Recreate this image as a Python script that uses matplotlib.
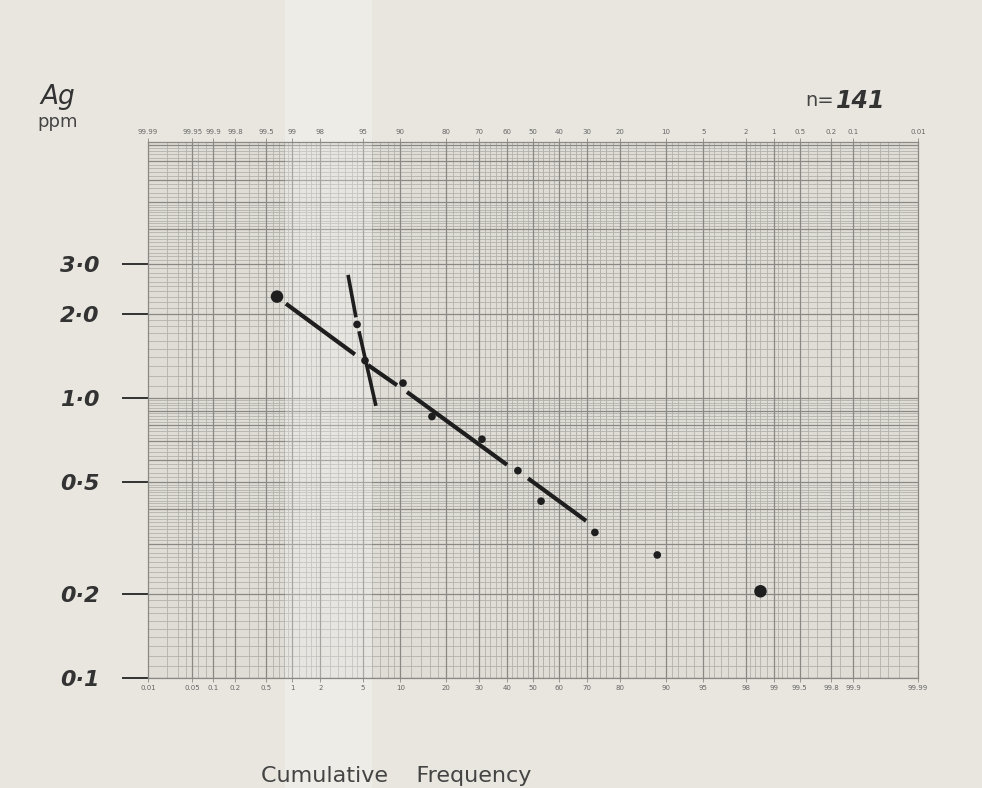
import numpy as np
import matplotlib
matplotlib.use("Agg")
import matplotlib.pyplot as plt
from matplotlib.patches import Rectangle
from statistics import NormalDist

# data (Ag, ppm vs cumulative frequency %)
cum_freq = [0.67, 4.46, 5.23, 10.46, 16.45, 31.1, 44.2, 53.1, 72.5, 88.5, 98.6]
ag_ppm = [2.30, 1.83, 1.36, 1.13, 0.858, 0.712, 0.550, 0.428, 0.331, 0.275, 0.204]
big_dots = [0, 10]  # the two outliers are drawn with larger dots

# hand-drawn fitted lines (pairs of end points), main population line has small gaps
main_line_x = [[0.85, 4.27], [5.55, 9.45], [11.18, 40.1], [48.1, 69.6]]
main_line_y = [[2.17, 1.43], [1.31, 1.11], [1.05, 0.577], [0.516, 0.364]]
steep_line_x = [[3.70, 4.36], [4.64, 6.46]]
steep_line_y = [[2.75, 1.94], [1.73, 0.937]]

bottom_ticks = [0.01, 0.05, 0.1, 0.2, 0.5, 1, 2, 5, 10, 20, 30, 40, 50,
                60, 70, 80, 90, 95, 98, 99, 99.5, 99.8, 99.9, 99.99]
bottom_labels = ["0.01", "0.05", "0.1", "0.2", "0.5", "1", "2", "5", "10", "20", "30",
                 "40", "50", "60", "70", "80", "90", "95", "98", "99", "99.5", "99.8",
                 "99.9", "99.99"]
top_labels = ["99.99", "99.95", "99.9", "99.8", "99.5", "99", "98", "95", "90", "80",
              "70", "60", "50", "40", "30", "20", "10", "5", "2", "1", "0.5", "0.2",
              "0.1", "0.01"]
y_ticks = [0.1, 0.2, 0.5, 1.0, 2.0, 3.0]
y_labels = ["0·1", "0·2", "0·5", "1·0", "2·0", "3·0"]

PAPER = "#e8e6df"
INK = "#1e1e1e"
FINE = "#b3b1ab"
MAJOR = "#8a8884"

_nd = NormalDist()
_ppf = np.vectorize(_nd.inv_cdf, otypes=[float])
_cdf = np.vectorize(_nd.cdf, otypes=[float])


def prob_fwd(p):
    p = np.clip(np.asarray(p, float), 1e-5, 100 - 1e-5)
    return _ppf(p / 100.0)


def prob_inv(z):
    return _cdf(np.asarray(z, float)) * 100.0


W, H = 982, 788
fig = plt.figure(figsize=(W / 100, H / 100), dpi=100, facecolor=PAPER)
L, R, T, B = 148, 918, 142, 678
ax = fig.add_axes([L / W, 1 - B / H, (R - L) / W, (B - T) / H])
ax.set_facecolor("#dfddd6")
ax.set_xscale("function", functions=(prob_fwd, prob_inv))
ax.set_yscale("log")
ax.set_xlim(0.01, 99.99)
ax.set_ylim(0.1, 8.2)

# probability-paper grid
fine_x = ([0.02, 0.03, 0.04, 0.06, 0.08, 0.15, 0.3, 0.4, 0.6, 0.7, 0.8, 0.9, 1.2, 1.4,
           1.6, 1.8, 2.5, 3, 3.5, 4, 4.5, 6, 7, 8, 9]
          + list(np.arange(12, 90, 2)))
fine_x = fine_x + [100 - v for v in fine_x if v < 50]
for v in fine_x:
    ax.axvline(v, color=FINE, lw=0.6, zorder=0.4)
for v in bottom_ticks[1:-1]:
    ax.axvline(v, color=MAJOR, lw=0.9, zorder=0.5)
for dec in [0.1, 1.0]:
    for k in np.arange(1.0, 10.0, 0.1):
        if k < 5 or abs((k * 10) % 2) < 1e-6:
            ax.axhline(k * dec, color=FINE, lw=0.6, zorder=0.4)
    for k in range(1, 10):
        ax.axhline(k * dec, color=MAJOR, lw=0.9, zorder=0.5)

# scanner light band
ax.add_patch(Rectangle((285 / W, 0), 87 / W, 1, transform=fig.transFigure,
                       facecolor="white", alpha=0.25, lw=0, zorder=1, clip_on=False))

for spine in ax.spines.values():
    spine.set_color(MAJOR)
    spine.set_linewidth(0.9)

# fitted lines
for xs, ys in zip(main_line_x, main_line_y):
    ax.plot(xs, ys, color=INK, lw=3.0, solid_capstyle="butt", zorder=3)
for xs, ys in zip(steep_line_x, steep_line_y):
    ax.plot(xs, ys, color=INK, lw=2.6, solid_capstyle="butt", zorder=3)

sizes = [9 if i in big_dots else 5.5 for i in range(len(cum_freq))]
ax.scatter(cum_freq, ag_ppm, s=[s ** 2 for s in sizes], color=INK, zorder=4, lw=0)

# axes ticks
ax.set_xticks(bottom_ticks)
ax.set_xticklabels(bottom_labels)
ax.tick_params(axis="x", which="both", length=3, width=0.6, color=MAJOR,
               labelsize=5, labelcolor="#666666", pad=2)
ax.minorticks_off()
ax.set_yticks(y_ticks)
ax.set_yticklabels(y_labels, fontstyle="italic", fontweight="bold", fontsize=16,
                   color="#333333")
ax.tick_params(axis="y", which="major", length=19, width=1.4, color="#333333", pad=16)
ax.yaxis.set_minor_locator(matplotlib.ticker.NullLocator())

ax2 = ax.twiny()
ax2.set_xscale("function", functions=(prob_fwd, prob_inv))
ax2.set_xlim(ax.get_xlim())
ax2.set_xticks(bottom_ticks)
ax2.set_xticklabels(top_labels)
ax2.tick_params(axis="x", length=3, width=0.6, color=MAJOR, labelsize=5,
                labelcolor="#666666", pad=2)
ax2.minorticks_off()
for spine in ax2.spines.values():
    spine.set_visible(False)

# annotations
fig.text(58 / W, 1 - 97 / H, "Ag", fontsize=19, fontstyle="italic", color="#333333",
         ha="center", va="center")
fig.text(58 / W, 1 - 122 / H, "ppm", fontsize=13, color="#444444",
         ha="center", va="center")
fig.text(805 / W, 1 - 101 / H, "n=", fontsize=14, color="#444444",
         ha="left", va="center")
fig.text(836 / W, 1 - 101 / H, "141", fontsize=17, fontstyle="italic", fontweight="bold",
         color="#333333", ha="left", va="center")
fig.text(396 / W, 1 - 776 / H, "Cumulative    Frequency", fontsize=16, color="#444444",
         ha="center", va="center")

fig.savefig("out.png", dpi=100, facecolor=PAPER)
